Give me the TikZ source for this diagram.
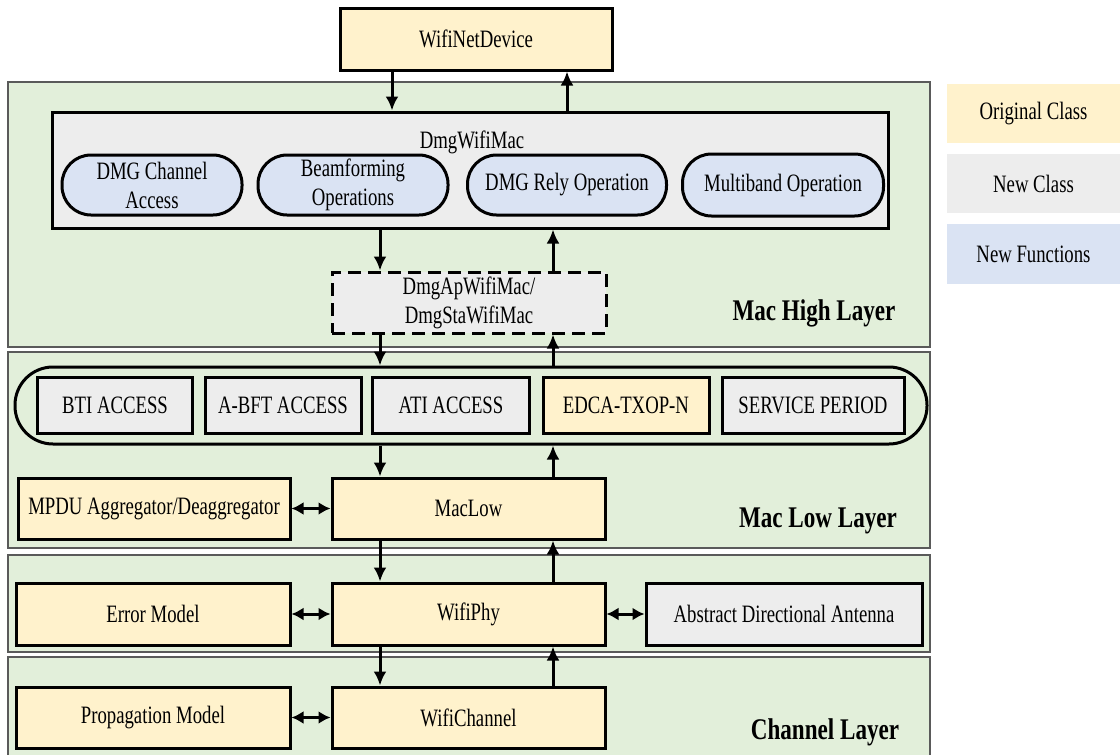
\documentclass[tikz,border=0pt]{standalone}
\usepackage{fontspec}
\usepackage{graphicx}
\setmainfont{Liberation Serif}
\usetikzlibrary{arrows.meta}
\definecolor{cyel}{HTML}{FFF2CC}
\definecolor{cgray}{HTML}{EDEDED}
\definecolor{cblue}{HTML}{DAE3F3}
\definecolor{cgreen}{HTML}{E2EFDA}
\definecolor{cborder}{HTML}{5A5A5A}
\newcommand\sq[1]{\scalebox{0.75}[1]{#1}}
\newcommand\sqb[1]{\scalebox{0.77}[1]{#1}}
\tikzset{
  base/.style={draw=black, line width=3pt, inner sep=0pt, align=center,
    font=\fontsize{25}{31}\selectfont},
  orig/.style={base, fill=cyel},
  newc/.style={base, fill=cgray},
  func/.style={base, fill=cblue, rounded corners=29pt},
  layer/.style={draw=cborder, fill=cgreen, line width=2pt},
  laylabel/.style={font=\fontsize{30}{32}\selectfont\bfseries, inner sep=0pt},
  legend/.style={inner sep=0pt, font=\fontsize{25}{31}\selectfont},
  arr/.style={line width=3pt, -{Latex[length=14pt,width=13pt]}},
  darr/.style={line width=3pt, {Latex[length=12pt,width=13pt]}-{Latex[length=12pt,width=13pt]}}
}
\begin{document}
\begin{tikzpicture}[x=1pt,y=-1pt]
\useasboundingbox[fill=white] (0,0) rectangle (1120,755);
% layers
\draw[layer] (8,82) rectangle (930,347);
\draw[layer] (8,352) rectangle (930,548);
\draw[layer] (8,555) rectangle (930,652);
\draw[layer] (8,657) rectangle (930,762);
\node[laylabel] (lhigh) at (814,313) {\sqb{Mac High Layer}};
\node[laylabel] (llow) at (818,521) {\sqb{Mac Low Layer}};
\node[laylabel] (lch) at (825,732) {\sqb{Channel Layer}};
% legend
\node[legend, fill=cyel, minimum width=173pt, minimum height=59pt] (leg1) at (1033.5,113.5) {\sq{Original Class}};
\node[legend, fill=cgray, minimum width=173pt, minimum height=59pt] (leg2) at (1033.5,183.5) {\sq{New Class}};
\node[legend, fill=cblue, minimum width=173pt, minimum height=60pt] (leg3) at (1033.5,254) {\sq{New Functions}};
% top
\node[orig, minimum width=272pt, minimum height=62pt] (wnd) at (476,39) {\sq{WifiNetDevice}};
\node[newc, minimum width=836pt, minimum height=116pt] (dwm) at (470,170) {};
\node[inner sep=0pt, font=\fontsize{25}{31}\selectfont] (dwml) at (472,142) {\sq{DmgWifiMac}};
\node[func, minimum width=180pt, minimum height=60pt] (f1) at (152,185) {\sq{DMG Channel}\\[-2pt]\sq{Access}};
\node[func, minimum width=190pt, minimum height=60pt] (f2) at (353,185) {\sq{Beamforming}\\[-2pt]\sq{Operations}};
\node[func, minimum width=199pt, minimum height=60pt] (f3) at (567,185) {\sq{DMG Rely Operation}};
\node[func, minimum width=201pt, minimum height=62pt] (f4) at (783,185) {\sq{Multiband Operation}};
\node[newc, dashed, dash pattern=on 13pt off 7pt, minimum width=274pt, minimum height=61pt] (dap) at (469,302.5) {\sq{DmgApWifiMac/}\\[-2pt]\sq{DmgStaWifiMac}};
% mac low
\node[base, rounded corners=38pt, minimum width=912pt, minimum height=77pt] (cont) at (471,405.5) {};
\node[newc, minimum width=155pt, minimum height=56pt] (bti) at (115,405) {\sq{BTI ACCESS}};
\node[newc, minimum width=156pt, minimum height=56pt] (abft) at (283,405) {\sq{A-BFT ACCESS}};
\node[newc, minimum width=157pt, minimum height=56pt] (ati) at (451,405) {\sq{ATI ACCESS}};
\node[orig, minimum width=166pt, minimum height=56pt] (edca) at (626,405) {\sq{EDCA-TXOP-N}};
\node[newc, minimum width=182pt, minimum height=56pt] (sp) at (813,405) {\sq{SERVICE PERIOD}};
\node[orig, minimum width=272pt, minimum height=61pt] (mpdu) at (154,508.5) {\sq{MPDU Aggregator/Deaggregator}};
\node[orig, minimum width=273pt, minimum height=61pt] (maclow) at (468.5,508.5) {\sq{MacLow}};
% phy
\node[orig, minimum width=274pt, minimum height=62pt] (err) at (153,614) {\sq{Error Model}};
\node[orig, minimum width=273pt, minimum height=62pt] (phy) at (468.5,614) {\sq{WifiPhy}};
\node[newc, minimum width=276pt, minimum height=62pt] (ada) at (784,614) {\sq{Abstract Directional Antenna}};
% channel
\node[orig, minimum width=274pt, minimum height=61pt] (prop) at (153,717.5) {\sq{Propagation Model}};
\node[orig, minimum width=273pt, minimum height=61pt] (wch) at (468.5,717.5) {\sq{WifiChannel}};
% arrows
\coordinate (xa) at (392,0);
\coordinate (xb) at (567,0);
\coordinate (xc) at (380,0);
\coordinate (xd) at (553,0);
\draw[arr] (wnd.south -| xa) -- (dwm.north -| xa);
\draw[arr] (dwm.north -| xb) -- (wnd.south -| xb);
\draw[arr] (dwm.south -| xc) -- (dap.north -| xc);
\draw[arr] (dap.north -| xd) -- (dwm.south -| xd);
\draw[arr] (dap.south -| xc) -- (cont.north -| xc);
\draw[arr] (cont.north -| xd) -- (dap.south -| xd);
\draw[arr] (cont.south -| xc) -- (maclow.north -| xc);
\draw[arr] (maclow.north -| xd) -- (cont.south -| xd);
\draw[arr] (maclow.south -| xc) -- (phy.north -| xc);
\draw[arr] (phy.north -| xd) -- (maclow.south -| xd);
\draw[arr] (phy.south -| xc) -- (wch.north -| xc);
\draw[arr] (wch.north -| xd) -- (phy.south -| xd);
\draw[darr] (mpdu.east) -- (maclow.west);
\draw[darr] (err.east) -- (phy.west);
\draw[darr] (phy.east) -- (ada.west);
\draw[darr] (prop.east) -- (wch.west);
\end{tikzpicture}
\end{document}
